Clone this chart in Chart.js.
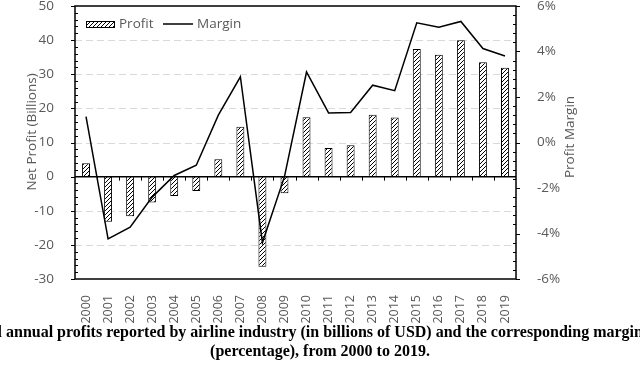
<!DOCTYPE html>
<html lang="en">
<head>
<meta charset="UTF-8">
<title>Airline industry profits 2000-2019</title>
<script src="https://cdn.jsdelivr.net/npm/chart.js"></script>
<style>
  body { margin:0; background:#fff; width:640px; height:368px; overflow:hidden; position:relative; }
  #wrap { position:absolute; left:0; top:0; width:640px; height:324px; }
  .cap { position:absolute; white-space:nowrap; font-family:"Liberation Serif","Times New Roman",serif; font-weight:bold; font-size:16px; color:#000; }
</style>
</head>
<body>
<div id="wrap"><canvas id="chart"></canvas></div>
<div class="cap" style="left:-33px;top:323px">Total annual profits reported by airline industry (in billions of USD) and the corresponding margin</div>
<div class="cap" style="left:0;width:640px;text-align:center;top:342px">(percentage), from 2000 to 2019.</div>

<script>
  // data
  const years = ['2000','2001','2002','2003','2004','2005','2006','2007','2008','2009',
                 '2010','2011','2012','2013','2014','2015','2016','2017','2018','2019'];
  const profit = [3.9, -13.2, -11.6, -7.6, -5.7, -4.2, 5.1, 14.6, -26.4, -4.9,
                  17.4, 8.4, 9.2, 18.1, 17.3, 37.4, 35.7, 40.0, 33.5, 31.9];
  const margin = [1.14, -4.24, -3.72, -2.4, -1.45, -1.0, 1.2, 2.89, -4.4, -1.5,
                  3.1, 1.3, 1.32, 2.52, 2.28, 5.26, 5.07, 5.32, 4.13, 3.8];
  const gridValues = [-20, -10, 10, 20, 30, 40];

  const grey = '#595959';
  const font = 'Open Sans';

  // diagonal hatch for the bars
  function hatch() {
    const c = document.createElement('canvas');
    c.width = 4; c.height = 4;
    const g = c.getContext('2d');
    g.fillStyle = '#fff';
    g.fillRect(0, 0, 4, 4);
    g.strokeStyle = '#000';
    g.lineWidth = 1;
    g.beginPath();
    g.moveTo(0, 4); g.lineTo(4, 0);
    g.moveTo(-1, 1); g.lineTo(1, -1);
    g.moveTo(3, 5); g.lineTo(5, 3);
    g.stroke();
    return g.createPattern(c, 'repeat');
  }
  const pattern = hatch();

  const frame = {
    id: 'frame',
    beforeDatasetsDraw(chart) {
      const {ctx, chartArea: a, scales: {y}} = chart;
      ctx.save();
      ctx.strokeStyle = '#d9d9d9';
      ctx.lineWidth = 1;
      ctx.setLineDash([7, 4]);
      gridValues.forEach(v => {
        const py = Math.round(y.getPixelForValue(v)) + 0.5;
        ctx.beginPath(); ctx.moveTo(a.left, py); ctx.lineTo(a.right, py); ctx.stroke();
      });
      ctx.restore();
    },
    afterDraw(chart) {
      const {ctx, chartArea: a, scales: {x, y, y1}} = chart;
      ctx.save();
      ctx.strokeStyle = '#000';
      ctx.lineWidth = 1.5;
      ctx.strokeRect(a.left, a.top, a.right - a.left, a.bottom - a.top);
      const zero = y.getPixelForValue(0);
      ctx.beginPath(); ctx.moveTo(a.left, zero); ctx.lineTo(a.right, zero); ctx.stroke();

      ctx.lineWidth = 1;
      ctx.beginPath();
      // left axis: major outside, minor inside
      for (let v = -30; v <= 50; v += 2) {
        const py = Math.round(y.getPixelForValue(v)) + 0.5;
        if (v % 10 === 0) { ctx.moveTo(a.left - 4, py); ctx.lineTo(a.left, py); }
        else { ctx.moveTo(a.left, py); ctx.lineTo(a.left + 3, py); }
      }
      // right axis
      for (let i = -15; i <= 15; i++) {
        const v = i * 0.4;
        const py = Math.round(y1.getPixelForValue(v)) + 0.5;
        if (i % 5 === 0) { ctx.moveTo(a.right, py); ctx.lineTo(a.right + 4, py); }
        else { ctx.moveTo(a.right - 3, py); ctx.lineTo(a.right, py); }
      }
      // category dividers on the zero line
      for (let i = 1; i < years.length; i++) {
        const px = Math.round((x.getPixelForValue(i - 1) + x.getPixelForValue(i)) / 2) + 0.5;
        ctx.moveTo(px, zero); ctx.lineTo(px, zero + 4);
      }
      ctx.stroke();

      // axis titles
      ctx.fillStyle = grey;
      ctx.font = '13.5px "' + font + '"';
      ctx.textAlign = 'center';
      ctx.textBaseline = 'middle';
      ctx.save();
      ctx.translate(32, 132); ctx.rotate(-Math.PI / 2);
      ctx.fillText('Net Profit (Billions)', 0, 0);
      ctx.restore();
      ctx.save();
      ctx.translate(570, 137); ctx.rotate(-Math.PI / 2);
      ctx.fillText('Profit Margin', 0, 0);
      ctx.restore();

      // legend
      ctx.fillStyle = pattern;
      ctx.fillRect(86, 21, 29, 6);
      ctx.strokeRect(86.5, 21.5, 28, 6);
      ctx.lineWidth = 1.5;
      ctx.beginPath(); ctx.moveTo(163, 24); ctx.lineTo(193, 24); ctx.stroke();
      ctx.fillStyle = grey;
      ctx.font = '13.5px "' + font + '"';
      ctx.textAlign = 'left';
      ctx.fillText('Profit', 119, 24);
      ctx.fillText('Margin', 197, 24);
      ctx.restore();
    }
  };

  const tickFont = {family: font, size: 13.5};

  new Chart(document.getElementById('chart'), {
    data: {
      labels: years,
      datasets: [{
        type: 'line',
        label: 'Margin',
        data: margin,
        yAxisID: 'y1',
        borderColor: '#000',
        borderWidth: 1.5,
        pointRadius: 0,
        tension: 0,
        order: 1
      }, {
        type: 'bar',
        label: 'Profit',
        data: profit,
        yAxisID: 'y',
        backgroundColor: pattern,
        borderColor: '#000',
        borderWidth: 1,
        barPercentage: 0.36,
        categoryPercentage: 1,
        order: 2
      }]
    },
    options: {
      responsive: true,
      maintainAspectRatio: false,
      animation: false,
      layout: {padding: {top: 6, left: 0, right: 0, bottom: 0}},
      plugins: {legend: {display: false}, tooltip: {enabled: false}},
      scales: {
        x: {
          grid: {display: false},
          border: {display: false},
          ticks: {minRotation: 90, maxRotation: 90, autoSkip: false, padding: 8, color: grey, font: {family: font, size: 12.5}},
          afterFit(s) { s.height = 45; s.paddingLeft = 0; s.paddingRight = 0; }
        },
        y: {
          position: 'left',
          min: -30, max: 50,
          grid: {display: false},
          border: {display: false},
          ticks: {stepSize: 10, padding: 13, color: grey, font: tickFont},
          afterFit(s) { s.width = 75; s.paddingTop = 0; s.paddingBottom = 0; }
        },
        y1: {
          position: 'right',
          min: -6, max: 6,
          grid: {display: false},
          border: {display: false},
          ticks: {stepSize: 2, padding: 13, color: grey, font: tickFont, callback: v => v + '%'},
          afterFit(s) { s.width = 124; s.paddingTop = 0; s.paddingBottom = 0; }
        }
      }
    },
    plugins: [frame]
  });
</script>
</body>
</html>
